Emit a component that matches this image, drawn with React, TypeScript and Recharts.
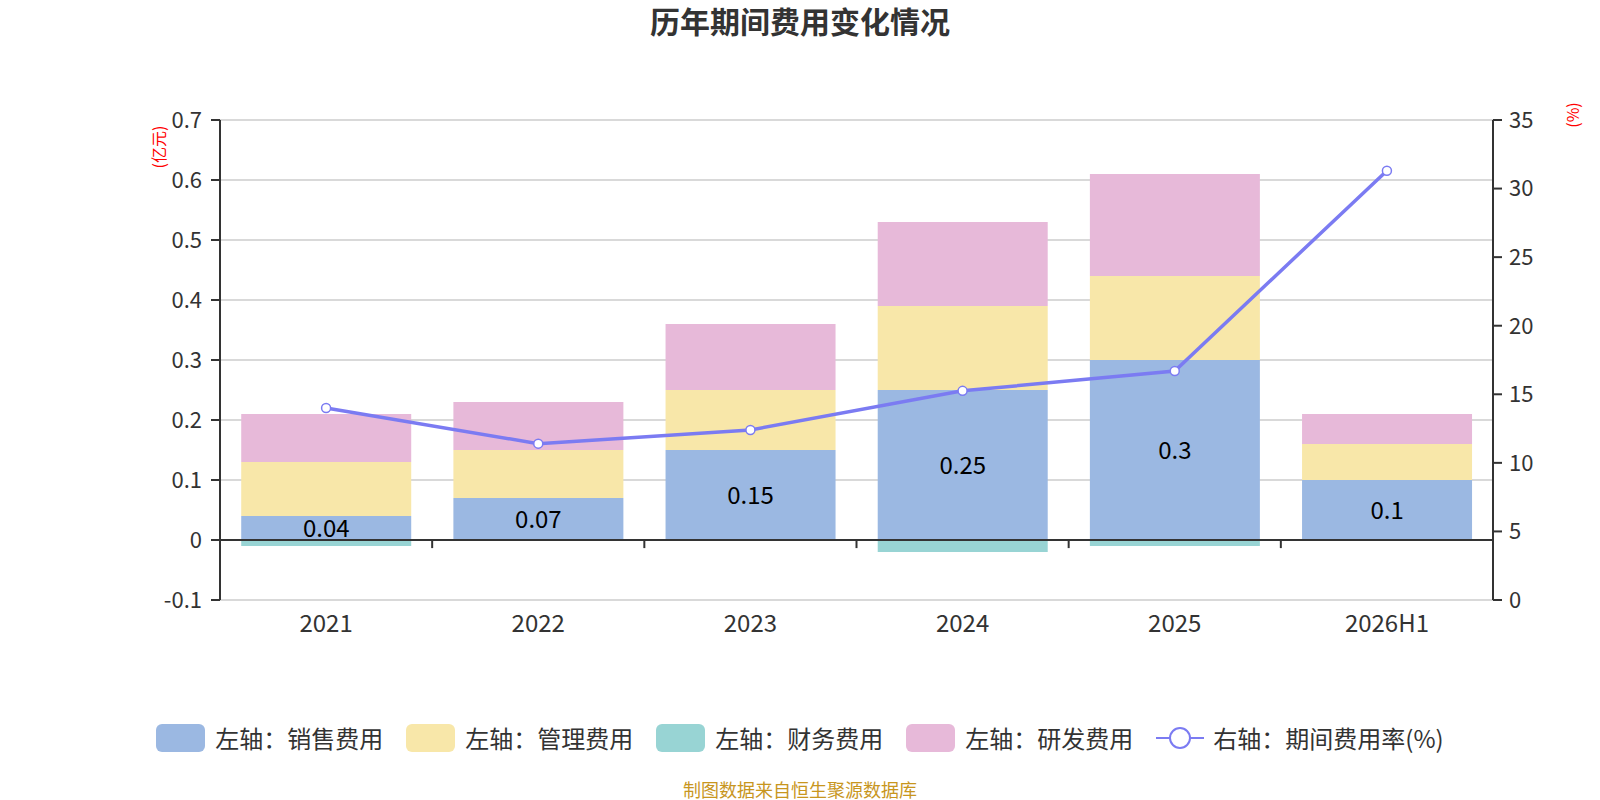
import React from "react";
import {
  Bar,
  CartesianGrid,
  ComposedChart,
  LabelList,
  Line,
  ReferenceLine,
  XAxis,
  YAxis,
} from "recharts";

const years = ["2021", "2022", "2023", "2024", "2025", "2026H1"];
const sales = [0.04, 0.07, 0.15, 0.25, 0.3, 0.1];
const admin = [0.09, 0.08, 0.1, 0.14, 0.14, 0.06];
const finance = [-0.01, 0, 0, -0.02, -0.01, 0];
const research = [0.08, 0.08, 0.11, 0.14, 0.17, 0.05];
const expenseRate = [14.0, 11.4, 12.4, 15.25, 16.7, 31.3];

const leftTicks = [-0.1, 0, 0.1, 0.2, 0.3, 0.4, 0.5, 0.6, 0.7];
const rightTicks = [0, 5, 10, 15, 20, 25, 30, 35];
// boundaries between the year bands, for the little ticks on the zero line
const bandEdges = [1, 2, 3, 4, 5];

const data = years.map((year, i) => ({
  year,
  slot: i + 0.5,
  sales: sales[i],
  admin: admin[i],
  finance: finance[i],
  research: research[i],
  rate: expenseRate[i],
}));

const font = '"Noto Sans CJK SC", "Noto Sans", sans-serif';
const lineColor = "#7b7bf2";

const legendItems = [
  { name: "左轴：销售费用", color: "#9bb8e2" },
  { name: "左轴：管理费用", color: "#f8e7a9" },
  { name: "左轴：财务费用", color: "#98d4d4" },
  { name: "左轴：研发费用", color: "#e7b9d9" },
];

const tickStyle = { fill: "#333", fontSize: 22, fontFamily: font };

function Legend() {
  return (
    <div
      style={{
        position: "absolute",
        top: 720,
        left: 0,
        width: 1600,
        display: "flex",
        justifyContent: "center",
        alignItems: "center",
        gap: 23,
        fontFamily: font,
        fontSize: 24,
        color: "#333",
      }}
    >
      {legendItems.map((item) => (
        <div key={item.name} style={{ display: "flex", alignItems: "center", gap: 10 }}>
          <div style={{ width: 49, height: 28, borderRadius: 6, background: item.color }} />
          <span>{item.name}</span>
        </div>
      ))}
      <div style={{ display: "flex", alignItems: "center", gap: 9 }}>
        <svg width={48} height={28}>
          <line x1={0} y1={14} x2={48} y2={14} stroke={lineColor} strokeWidth={2} />
          <circle cx={24} cy={14} r={10} fill="#fff" stroke={lineColor} strokeWidth={2} />
        </svg>
        <span>右轴：期间费用率(%)</span>
      </div>
    </div>
  );
}

export default function App() {
  return (
    <div style={{ position: "absolute", top: 0, left: 0, width: 1600, height: 800, background: "#fff" }}>
      <div
        style={{
          position: "absolute",
          top: -2,
          width: 1600,
          textAlign: "center",
          fontFamily: font,
          fontSize: 30,
          fontWeight: 700,
          color: "#333",
        }}
      >
        历年期间费用变化情况
      </div>
      <div
        style={{
          position: "absolute",
          left: 158,
          top: 147,
          transform: "translate(-50%, -50%) rotate(-90deg)",
          fontFamily: font,
          fontSize: 16,
          color: "#f00",
          whiteSpace: "nowrap",
        }}
      >
        (亿元)
      </div>
      <div
        style={{
          position: "absolute",
          left: 1572,
          top: 115,
          transform: "translate(-50%, -50%) rotate(-90deg)",
          fontFamily: font,
          fontSize: 16,
          color: "#f00",
          whiteSpace: "nowrap",
        }}
      >
        (%)
      </div>

      <ComposedChart
        width={1600}
        height={800}
        data={data}
        stackOffset="sign"
        barCategoryGap="10%"
        margin={{ top: 120, right: 47, bottom: 170, left: 160 }}
      >
        <CartesianGrid yAxisId="left" vertical={false} stroke="#cccccc" strokeWidth={1.5} />
        <XAxis
          dataKey="year"
          axisLine={false}
          tickLine={false}
          tickSize={8}
          tickMargin={7}
          tick={{ ...tickStyle, fontSize: 24 }}
          height={30}
        />
        <XAxis xAxisId="edges" dataKey="slot" type="number" domain={[0, 6]} allowDataOverflow hide />
        <YAxis
          yAxisId="left"
          domain={[-0.1, 0.7]}
          ticks={leftTicks}
          interval={0}
          width={60}
          stroke="#333"
          strokeWidth={2}
          tickSize={9}
          tickMargin={9}
          tick={tickStyle}
        />
        <YAxis
          yAxisId="right"
          orientation="right"
          domain={[0, 35]}
          ticks={rightTicks}
          interval={0}
          width={60}
          stroke="#333"
          strokeWidth={2}
          tickSize={9}
          tickMargin={7}
          tick={{ ...tickStyle, textAnchor: "start" }}
        />
        <Bar yAxisId="left" dataKey="sales" stackId="cost" fill="#9bb8e2" isAnimationActive={false}>
          <LabelList dataKey="sales" position="center" fill="#000" fontSize={24} fontFamily={font} />
        </Bar>
        <Bar yAxisId="left" dataKey="admin" stackId="cost" fill="#f8e7a9" isAnimationActive={false} />
        <Bar yAxisId="left" dataKey="finance" stackId="cost" fill="#98d4d4" isAnimationActive={false} />
        <Bar yAxisId="left" dataKey="research" stackId="cost" fill="#e7b9d9" isAnimationActive={false} />
        <ReferenceLine yAxisId="left" y={0} stroke="#333" strokeWidth={2} />
        {bandEdges.map((edge) => (
          <ReferenceLine
            key={edge}
            xAxisId="edges"
            yAxisId="left"
            segment={[
              { x: edge, y: 0 },
              { x: edge, y: -0.0135 },
            ]}
            stroke="#333"
            strokeWidth={2}
          />
        ))}
        <Line
          yAxisId="right"
          dataKey="rate"
          stroke={lineColor}
          strokeWidth={3.5}
          dot={{ r: 4.5, fill: "#fff", stroke: lineColor, strokeWidth: 1.5 }}
          isAnimationActive={false}
        />
      </ComposedChart>

      <Legend />
      <div
        style={{
          position: "absolute",
          top: 776,
          width: 1600,
          textAlign: "center",
          fontFamily: font,
          fontSize: 18,
          color: "#c8961e",
        }}
      >
        制图数据来自恒生聚源数据库
      </div>
    </div>
  );
}
